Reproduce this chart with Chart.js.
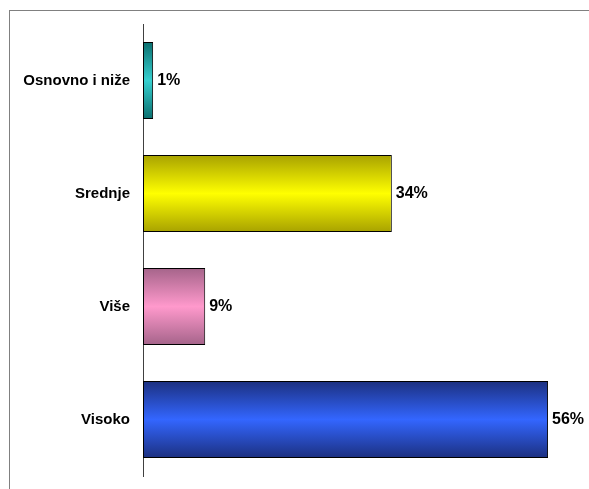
<!DOCTYPE html>
<html>
<head>
<meta charset="utf-8">
<script src="https://cdn.jsdelivr.net/npm/chart.js@4"></script>
<style>
    body { margin: 0; background: #fff; }
    #wrap { position: relative; width: 589px; height: 489px; overflow: hidden; }
    #frame {
        position: absolute; left: 9px; top: 10px; width: 600px; height: 500px;
        border-top: 1px solid #808080; border-left: 1px solid #808080;
    }
    #chart { position: absolute; left: 0; top: 0; }
</style>
</head>
<body>
<div id="wrap">
    <div id="frame"></div>
    <canvas id="chart" width="589" height="489"></canvas>
</div>
<script>
const categories = ['Osnovno i niže', 'Srednje', 'Više', 'Visoko'];
const values = [1.4, 34.4, 8.6, 56];
const lightColors = ['#36d0d0', '#ffff00', '#ff99cc', '#3366ff'];
const darkColors = ['#0a6e6e', '#a8a200', '#a5648a', '#1c3080'];

const FONT = '"Liberation Sans", Arial, sans-serif';
const BAR_PCT = 0.68;

document.addEventListener('DOMContentLoaded', () => {
    const ctx = document.getElementById('chart');

    // vertical "cylinder" shading for each bar
    function barGradient(c) {
        const i = c.dataIndex;
        const chart = c.chart;
        const y = chart.scales.y;
        if (i === undefined || !y || !chart.chartArea) return lightColors[0];
        const center = y.getPixelForValue(i);
        const half = Math.abs(y.getPixelForValue(1) - y.getPixelForValue(0)) * BAR_PCT / 2;
        const g = chart.ctx.createLinearGradient(0, center - half, 0, center + half);
        g.addColorStop(0, darkColors[i]);
        g.addColorStop(0.5, lightColors[i]);
        g.addColorStop(1, darkColors[i]);
        return g;
    }

    const valueLabelPlugin = {
        id: 'valueLabels',
        afterDatasetsDraw(chart) {
            const meta = chart.getDatasetMeta(0);
            const c = chart.ctx;
            c.save();
            c.font = 'bold 16px ' + FONT;
            c.fillStyle = '#000';
            c.textAlign = 'left';
            c.textBaseline = 'middle';
            meta.data.forEach((bar, i) => {
                c.fillText(Math.round(values[i]) + '%', bar.x + 4, bar.y);
            });
            c.restore();
        }
    };

    new Chart(ctx, {
        type: 'bar',
        data: {
            labels: categories,
            datasets: [{
                data: values,
                backgroundColor: barGradient,
                borderColor: '#000',
                borderWidth: 1,
                borderSkipped: false,
                categoryPercentage: 1,
                barPercentage: BAR_PCT
            }]
        },
        options: {
            indexAxis: 'y',
            responsive: false,
            animation: false,
            devicePixelRatio: 1,
            layout: { padding: { top: 24, bottom: 13, left: 0, right: 12 } },
            scales: {
                x: { display: false, min: 0, max: 60 },
                y: {
                    afterFit: (scale) => {
                        scale.width = 143;
                        scale.paddingTop = 0;
                        scale.paddingBottom = 0;
                    },
                    grid: { display: false, drawTicks: false },
                    border: { display: true, color: '#404040', width: 1 },
                    ticks: {
                        padding: 13,
                        color: '#000',
                        font: { family: FONT, size: 15, weight: 'bold' }
                    }
                }
            },
            plugins: {
                legend: { display: false },
                tooltip: { enabled: false }
            }
        },
        plugins: [valueLabelPlugin]
    });
});
</script>
</body>
</html>
